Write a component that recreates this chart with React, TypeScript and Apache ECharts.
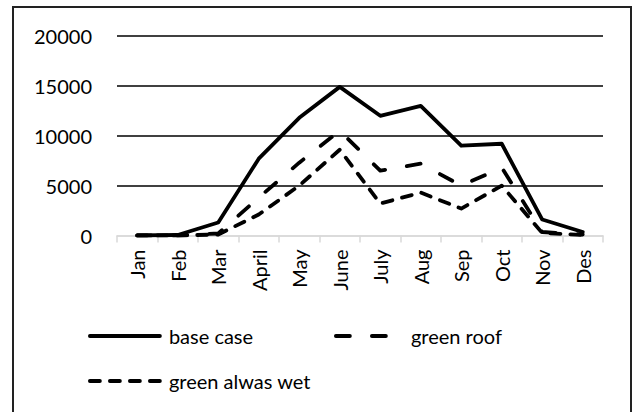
import React, { useEffect, useRef } from "react";
import * as echarts from "echarts";

const months = ["Jan", "Feb", "Mar", "April", "May", "June", "July", "Aug", "Sep", "Oct", "Nov", "Des"];
const baseCase = [0, 50, 1300, 7700, 11800, 14900, 12000, 13000, 9000, 9200, 1600, 350];
const greenRoof = [0, 0, 200, 3800, 7300, 10500, 6500, 7200, 5000, 6800, 350, 100];
const greenWet = [0, 0, 100, 2100, 5000, 8600, 3200, 4300, 2700, 5000, 250, 50];
const yTicks = { min: 0, max: 20000, interval: 5000 };

const FONT = "Lato";
const LONG_DASH = [14, 22];
const SHORT_DASH = [10, 10];

export default function App() {
  const ref = useRef<HTMLDivElement>(null);
  useEffect(() => {
    if (!ref.current) return;
    const chart = echarts.init(ref.current, undefined, { renderer: "svg" });
    const lineBase = { color: "#000", width: 3.8, cap: "round", join: "round" };
    const legendCommon = {
      padding: 0,
      itemWidth: 70,
      itemHeight: 14,
      itemStyle: { opacity: 0, borderWidth: 0 },
      textStyle: { fontFamily: FONT, fontSize: 20, color: "#000", padding: [0, 0, 0, 4] },
    };
    chart.setOption({
      animation: false,
      backgroundColor: "#fff",
      graphic: [
        {
          type: "rect",
          shape: { x: 13, y: 7, width: 618, height: 420 },
          style: { fill: "none", stroke: "#222", lineWidth: 2 },
          silent: true,
        },
      ],
      grid: { left: 117, right: 31, top: 36, bottom: 176.5, containLabel: false },
      xAxis: {
        type: "category",
        data: months,
        boundaryGap: true,
        axisLine: { show: true, lineStyle: { color: "#d9d9d9", width: 1.5 } },
        axisTick: { show: true, length: 7, lineStyle: { color: "#d9d9d9", width: 1.5 } },
        axisLabel: { rotate: 90, margin: 14, fontFamily: FONT, fontSize: 20, color: "#000" },
        splitLine: { show: false },
      },
      yAxis: {
        type: "value",
        min: yTicks.min,
        max: yTicks.max,
        interval: yTicks.interval,
        axisLine: { show: false },
        axisTick: { show: false },
        axisLabel: {
          margin: 25,
          fontFamily: FONT,
          fontSize: 20,
          color: "#000",
          formatter: (v: number) => String(v),
        },
        splitLine: {
          show: true,
          lineStyle: { color: ["#d9d9d9", "#000", "#000", "#000", "#000"], width: 1.5 },
        },
      },
      legend: [
        {
          ...legendCommon,
          data: ["base case"],
          left: 88,
          top: 326,
          lineStyle: { width: 3.8, cap: "round", type: "solid", color: "#000" },
        },
        {
          ...legendCommon,
          itemWidth: 66,
          data: ["green roof"],
          left: 334,
          top: 326,
          lineStyle: { width: 3.8, cap: "round", type: LONG_DASH, color: "#000" },
        },
        {
          ...legendCommon,
          data: ["green alwas wet"],
          left: 88,
          top: 371,
          lineStyle: { width: 3.8, cap: "round", type: SHORT_DASH, color: "#000" },
        },
      ],
      series: [
        {
          name: "base case",
          type: "line",
          data: baseCase,
          showSymbol: false,
          symbol: "none",
          lineStyle: { ...lineBase, type: "solid" },
          itemStyle: { color: "#000" },
        },
        {
          name: "green roof",
          type: "line",
          data: greenRoof,
          showSymbol: false,
          symbol: "none",
          lineStyle: { ...lineBase, type: LONG_DASH },
          itemStyle: { color: "#000" },
        },
        {
          name: "green alwas wet",
          type: "line",
          data: greenWet,
          showSymbol: false,
          symbol: "none",
          lineStyle: { ...lineBase, type: SHORT_DASH },
          itemStyle: { color: "#000" },
        },
      ],
    });
    return () => chart.dispose();
  }, []);
  return (
    <div
      ref={ref}
      style={{ position: "fixed", left: 0, top: 0, width: 634, height: 412, background: "#fff" }}
    />
  );
}
